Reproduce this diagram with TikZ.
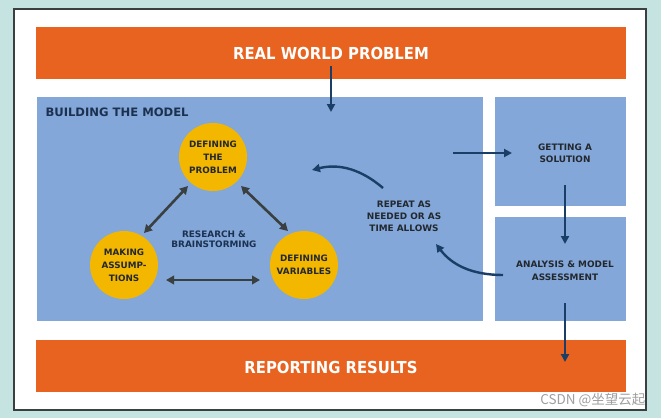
\documentclass[tikz,border=0pt]{standalone}
\usepackage{fontspec}
\setmainfont{DejaVu Sans}
\newfontfamily\condfont{DejaVu Sans Condensed}
\newfontfamily\cjk{Noto Sans CJK SC}
\usetikzlibrary{arrows.meta}
\definecolor{bgteal}{HTML}{C5E3E1}
\definecolor{orng}{HTML}{E8631F}
\definecolor{blu}{HTML}{83A7D9}
\definecolor{ylw}{HTML}{F3B700}
\definecolor{navy}{HTML}{1A3E66}
\definecolor{darkgr}{HTML}{3A3F40}
\definecolor{txt}{HTML}{23282E}
\definecolor{ttl}{HTML}{1C3150}
\tikzset{
  bar/.style={fill=orng, draw=none, inner sep=0pt},
  panel/.style={fill=blu, draw=none, inner sep=0pt},
  bubble/.style={circle, fill=ylw, draw=none, minimum size=68pt, inner sep=0pt, align=center,
    font=\fontsize{8.8}{13}\selectfont\bfseries, text=txt},
  bartext/.style={font=\condfont\fontsize{16.5}{18}\selectfont\bfseries, text=white},
  smalltext/.style={font=\fontsize{8.9}{12}\selectfont\bfseries, text=txt, align=center},
  navyarrow/.style={draw=navy, line width=2.4pt, -{Triangle[length=8pt,width=8pt]}},
  grayarrow/.style={draw=darkgr, line width=2.6pt, {Triangle[length=8pt,width=8.5pt]}-{Triangle[length=8pt,width=8.5pt]}},
}
\begin{document}
\begin{tikzpicture}[x=1pt,y=-1pt]
\useasboundingbox (0,0) rectangle (661,418);
\fill[bgteal] (0,0) rectangle (661,418);
\draw[fill=white, draw=darkgr, line width=1.3pt] (14,9) rectangle (646,410);
% bars and panels
\path[bar] (36,27) rectangle (626,79);
\node[bartext] (rwp) at (331,53) {REAL WORLD PROBLEM};
\path[panel] (37,97) rectangle (483,321);
\node[anchor=west, font=\fontsize{11.6}{12}\selectfont\bfseries, text=ttl] (btm) at (42,112) {BUILDING THE MODEL};
\path[panel] (495,97) rectangle (626,206);
\path[panel] (495,217) rectangle (626,321);
\path[bar] (36,340) rectangle (626,392);
\node[bartext] (rr) at (331,367) {REPORTING RESULTS};
% circles
\node[bubble] (dtp) at (213,157) {DEFINING\\THE\\PROBLEM};
\node[bubble] (ma) at (124,265) {MAKING\\ASSUMP-\\TIONS};
\node[bubble] (dv) at (304,265) {DEFINING\\VARIABLES};
\node[smalltext, text=ttl, font=\fontsize{8.9}{10}\selectfont\bfseries] (rb) at (214,239) {RESEARCH \&\\BRAINSTORMING};
% text nodes
\node[smalltext] (rep) at (404,216) {REPEAT AS\\NEEDED OR AS\\TIME ALLOWS};
\node[smalltext] (gas) at (565,153) {GETTING A\\SOLUTION};
\node[smalltext, font=\fontsize{8.9}{13}\selectfont\bfseries] (ama) at (565,271) {ANALYSIS \& MODEL\\ASSESSMENT};
% coordinates for arrows
\coordinate (a1s) at (331,66);
\coordinate (a1e) at (331,112);
\coordinate (a2s) at (453,153);
\coordinate (a2e) at (512,153);
\coordinate (a3s) at (565,185);
\coordinate (a3e) at (565,244);
\coordinate (a4s) at (565,303);
\coordinate (a4e) at (565,362);
\coordinate (c1s) at (383,188);
\coordinate (c1e) at (312,170);
\coordinate (c2s) at (503,275);
\coordinate (c2e) at (436,244);
\coordinate (d1a) at (188,186);
\coordinate (d1b) at (144,233);
\coordinate (d2a) at (241,186);
\coordinate (d2b) at (288,231);
\coordinate (d3a) at (166,280);
\coordinate (d3b) at (260,280);
\draw[navyarrow] (a1s) -- (a1e);
\draw[navyarrow] (a2s) -- (a2e);
\draw[navyarrow] (a3s) -- (a3e);
\draw[navyarrow] (a4s) -- (a4e);
\draw[navyarrow] (c1s) .. controls (362,170) and (340,163) .. (c1e);
\draw[navyarrow] (c2s) .. controls (472,275) and (452,265) .. (c2e);
\draw[grayarrow] (d1a) -- (d1b);
\draw[grayarrow] (d2a) -- (d2b);
\draw[grayarrow] (d3a) -- (d3b);
% watermark
\node[anchor=east, font=\cjk\fontsize{13.5}{15}\selectfont, text=gray!75] (wm) at (649,400) {CSDN @坐望云起};
\end{tikzpicture}
\end{document}
